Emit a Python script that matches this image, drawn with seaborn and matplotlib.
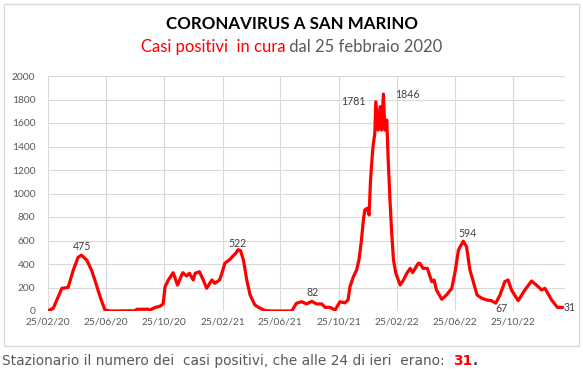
import numpy as np
import pandas as pd
import matplotlib
matplotlib.use('Agg')
import matplotlib.pyplot as plt
from matplotlib.patches import Rectangle
import seaborn as sns

# Data: days since 25/02/2020 and active cases
start_date = '2020-02-25'
days = [0, 11, 29, 42, 53, 63, 70, 81, 91, 98, 109, 119, 130, 182, 186, 209, 213,
        224, 234, 241, 245, 252, 262, 271, 282, 290, 296, 304, 308, 317, 325, 332,
        343, 349, 359, 364, 370, 381, 387, 393, 398, 403, 409, 416, 423, 433, 444,
        454, 465, 510, 520, 531, 541, 552, 562, 573, 580, 590, 601, 611, 621, 628,
        632, 639, 646, 651, 656, 660, 663, 668, 672, 675, 679, 681, 684, 686, 691,
        695, 698, 702, 705, 709, 712, 716, 719, 723, 728, 737, 744, 751, 758, 763,
        775, 778, 785, 794, 803, 808, 813, 824, 834, 845, 852, 859, 869, 876, 883,
        890, 898, 908, 918, 928, 937, 946, 956, 963, 970, 984, 998, 1012, 1026,
        1033, 1040, 1054, 1066, 1077]
cases = [2, 23, 193, 200, 349, 457, 475, 434, 349, 264, 122, 10, 0, 2, 15, 15, 8,
         30, 40, 60, 207, 264, 326, 221, 326, 298, 321, 264, 321, 334, 264, 193,
         264, 236, 264, 321, 406, 440, 468, 491, 522, 513, 434, 264, 136, 51, 23,
         5, 0, 0, 66, 79, 60, 82, 60, 60, 31, 31, 9, 79, 69, 94,
         207, 290, 350, 440, 604, 774, 860, 874, 817, 1115, 1342, 1427, 1512, 1781, 1540,
         1739, 1540, 1846, 1540, 1625, 1285, 917, 689, 434, 321, 221, 264, 321, 363, 326,
         406, 406, 363, 363, 250, 264, 179, 100, 136, 193, 334, 519, 594, 547, 349,
         250, 136, 108, 94, 88, 67, 136, 250, 264, 179, 88, 179, 255, 207,
         179, 193, 94, 31, 31]

tick_dates = ['2020-02-25', '2020-06-25', '2020-10-25', '2021-02-25', '2021-06-25',
              '2021-10-25', '2022-02-25', '2022-06-25', '2022-10-25']
tick_labels = ['25/02/20', '25/06/20', '25/10/20', '25/02/21', '25/06/21',
               '25/10/21', '25/02/22', '25/06/22', '25/10/22']
y_ticks = [0, 200, 400, 600, 800, 1000, 1200, 1400, 1600, 1800, 2000]

# labelled points: (day, label, offset x px, offset y px, ha, va)
labels = [(70, '475', 1, 3, 'center', 'bottom'),
          (398, '522', -1, 1, 'center', 'bottom'),
          (552, '82', 1, 3, 'center', 'bottom'),
          (686, '1781', -10, 0, 'right', 'center'),
          (702, '1846', 12, 0, 'left', 'center'),
          (869, '594', 4, 2, 'center', 'bottom'),
          (937, '67', 6, -5, 'center', 'center'),
          (1077, '31', 1, 0, 'left', 'center')]

df = pd.DataFrame({'date': pd.to_datetime(start_date) + pd.to_timedelta(days, unit='D'),
                   'cases': cases})
case_by_day = dict(zip(days, cases))

sns.set_theme(style='white')
plt.rcParams['font.family'] = ['Lato', 'DejaVu Sans']

W, H = 583, 375
fig = plt.figure(figsize=(W / 100, H / 100), dpi=100)
ax = fig.add_axes([48 / W, 1 - 311 / H, (565 - 48) / W, (311 - 76) / H])

sns.lineplot(data=df, x='date', y='cases', ax=ax, color='#ff0000', linewidth=2.3)

x0 = pd.to_datetime(start_date)
ax.set_xlim(x0, x0 + pd.Timedelta(days=1082))
ax.set_ylim(0, 2000)
ax.set_xticks(pd.to_datetime(tick_dates))
ax.set_xticklabels(tick_labels)
ax.set_yticks(y_ticks)
ax.tick_params(axis='both', length=0, labelsize=7.4, colors='#595959')
ax.tick_params(axis='x', pad=5)
ax.tick_params(axis='y', pad=9)
ax.grid(True, color='#d9d9d9', linewidth=0.8)
ax.set_axisbelow(True)
for s in ax.spines.values():
    s.set_visible(False)
ax.set_xlabel('')
ax.set_ylabel('')

px = 0.72  # points per pixel
for d, txt, dx, dy, ha, va in labels:
    ax.annotate(txt, xy=(x0 + pd.Timedelta(days=d), case_by_day[d]),
                xytext=(dx * px, dy * px), textcoords='offset points',
                ha=ha, va=va, fontsize=7.6, color='#404040')

# chart border
fig.patches.append(Rectangle((4 / W, 1 - 346 / H), 575 / W, 342 / H,
                             transform=fig.transFigure, fill=False,
                             edgecolor='#d9d9d9', linewidth=1))

fig.text(0.5, 1 - 24 / H, 'CORONAVIRUS A SAN MARINO', ha='center', va='center',
         fontsize=12.2, fontweight='bold', color='black')


def text_row(parts, x, y, ha='center', **kw):
    # place coloured pieces one after another on a single line
    fig.canvas.draw()
    r = fig.canvas.get_renderer()
    objs = [fig.text(0, y, s, va='center', color=c, fontweight=fw, **kw) for s, c, fw in parts]
    widths = [o.get_window_extent(r).width for o in objs]
    total = sum(widths)
    left = x * W - (total / 2 if ha == 'center' else 0)
    for o, w in zip(objs, widths):
        o.set_x(left / W)
        left += w


text_row([('Casi positivi  in cura', '#ff0000', 'normal'),
          (' dal 25 febbraio 2020', '#595959', 'normal')],
         0.5, 1 - 47 / H, fontsize=12)

text_row([('Stazionario il numero dei  casi positivi, che alle 24 di ieri  erano:  ', '#595959', 'normal'),
          ('31', '#ff0000', 'bold'),
          ('.', '#404040', 'bold')],
         2 / W, 1 - 361 / H, ha='left', fontsize=9.9, family=['DejaVu Sans'])

fig.savefig('out.png', dpi=100)
